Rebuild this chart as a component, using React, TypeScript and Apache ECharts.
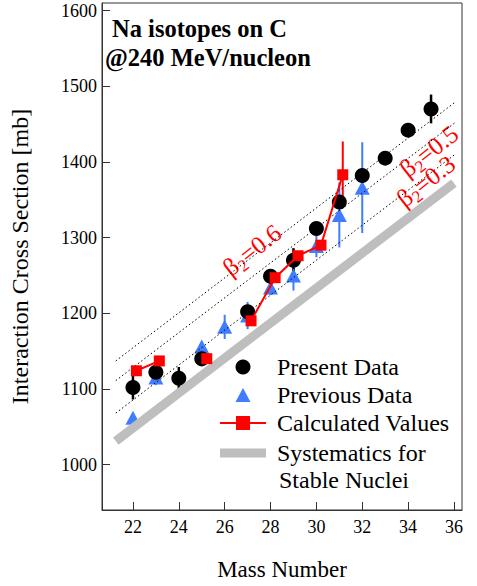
import React, { useEffect, useRef } from "react";
import * as echarts from "echarts";

// ---- data ----
const xTicks = [22, 24, 26, 28, 30, 32, 34, 36];
const yTicks = [1000, 1100, 1200, 1300, 1400, 1500, 1600];

// Present data: [A, sigma, err]
const presentA = [22, 23, 24, 25, 27, 28, 29, 30, 31, 32, 33, 34, 35];
const presentSigma = [1102, 1122, 1114, 1140, 1202, 1249, 1270, 1312, 1347, 1382, 1405, 1442, 1470];
const presentErr = [16, 8, 15, 10, 8, 5, 16, 5, 8, 5, 9, 5, 19];

// Previous data
const previousA = [22, 23, 25, 26, 27, 28, 29, 30, 31, 32];
const previousSigma = [1062, 1115, 1156, 1182, 1197, 1234, 1250, 1289, 1330, 1366];
const previousErr = [0, 10, 4, 16, 18, 10, 20, 15, 43, 60];

// Calculated values (null = break in line)
const calcA = [22.15, 23.15, 24, 25.22, 26, 27.15, 28.2, 29.2, 30.2, 31.15];
const calcSigma: (number | null)[] = [1124, 1137, null, 1140, null, 1190, 1247, 1276, 1290, 1383];
const calcErr = [0, 0, 0, 0, 0, 0, 0, 0, 0, 44];

// Systematics for stable nuclei
const systA = [21.25, 36.0];
const systSigma = [1031, 1372];

// beta2 deformation lines
const betaA = [21.25, 36.05];
const beta06 = [1137, 1479];
const beta05 = [1111, 1452];
const beta03 = [1068, 1410];

const FONT = "Liberation Serif, Times New Roman, serif";

function zip(xs: number[], ys: (number | null)[]) {
  return xs.map((x, i) => [x, ys[i] === null ? "-" : ys[i]]);
}
function errData(xs: number[], ys: (number | null)[], es: number[]) {
  const out: number[][] = [];
  xs.forEach((x, i) => {
    const y = ys[i];
    if (y !== null && es[i] > 0) out.push([x, y - es[i], y + es[i]]);
  });
  return out;
}
function errSeries(data: number[][], color: string, width: number) {
  return {
    type: "custom",
    data,
    encode: { x: 0, y: [1, 2] },
    silent: true,
    renderItem: (_p: any, api: any) => {
      const a = api.coord([api.value(0), api.value(1)]);
      const b = api.coord([api.value(0), api.value(2)]);
      return {
        type: "line",
        shape: { x1: a[0], y1: a[1], x2: b[0], y2: b[1] },
        style: { stroke: color, lineWidth: width },
      };
    },
  };
}

const BLUE = "#3f7cff";
const RED = "#ff0000";
const GRAY = "#bebebe";

export default function App() {
  const ref = useRef<HTMLDivElement>(null);
  useEffect(() => {
    document.body.style.margin = "0";
    const chart = echarts.init(ref.current!, null, { renderer: "svg" });
    const rot = (38 * Math.PI) / 180;
    const betaLabel = (txt: string, x: number, y: number) => ({
      type: "text",
      x,
      y,
      rotation: rot,
      style: {
        text: `{b|β}{s|2}{b|=${txt}}`,
        align: "center",
        verticalAlign: "middle",
        rich: {
          b: { fontFamily: FONT, fontSize: 25, fill: RED, color: RED },
          s: { fontFamily: FONT, fontSize: 17, fill: RED, color: RED, padding: [14, 0, 0, 0] },
        },
      },
    });
    const legText = (t: string, y: number, x = 277) => ({
      type: "text",
      x,
      y,
      style: { text: t, fontFamily: FONT, fontSize: 24, fill: "#000", verticalAlign: "middle", align: "left" },
    });
    chart.setOption({
      animation: false,
      textStyle: { fontFamily: FONT },
      grid: { left: 93, right: 15, top: 3, bottom: 61, show: true, borderColor: "#333", borderWidth: 1 },
      xAxis: {
        type: "value",
        min: 20.65,
        max: 36.35,
        name: "Mass Number",
        nameLocation: "middle",
        nameGap: 48,
        nameTextStyle: { fontFamily: FONT, fontSize: 23, color: "#000" },
        axisLine: { show: true, lineStyle: { color: "#333" } },
        axisTick: { show: true, inside: true, length: 8, lineStyle: { color: "#333" }, customValues: xTicks },
        axisLabel: { fontFamily: FONT, fontSize: 18, color: "#000", margin: 8, customValues: xTicks, formatter: (v: number) => String(v) },
        splitLine: { show: false },
      },
      yAxis: {
        type: "value",
        min: 940,
        max: 1610,
        name: "Interaction Cross Section [mb]",
        nameLocation: "middle",
        nameGap: 70,
        nameRotate: 90,
        nameTextStyle: { fontFamily: FONT, fontSize: 24, color: "#000" },
        axisLine: { show: true, lineStyle: { color: "#333" } },
        axisTick: { show: true, inside: true, length: 8, lineStyle: { color: "#333" }, customValues: yTicks },
        axisLabel: { fontFamily: FONT, fontSize: 18, color: "#000", margin: 5, customValues: yTicks, formatter: (v: number) => String(v) },
        splitLine: { show: false },
      },
      series: [
        {
          type: "line",
          name: "Systematics for Stable Nuclei",
          data: zip(systA, systSigma),
          symbol: "none",
          lineStyle: { color: GRAY, width: 9, cap: "butt" },
          silent: true,
        },
        ...[beta06, beta05, beta03].map((b) => ({
          type: "line",
          data: zip(betaA, b),
          symbol: "none",
          lineStyle: { color: "#000", width: 1, type: [1.5, 2.5] },
          silent: true,
        })),
        {
          type: "line",
          name: "Calculated Values",
          data: zip(calcA, calcSigma),
          connectNulls: false,
          symbol: "rect",
          symbolSize: 11,
          itemStyle: { color: RED, opacity: 1 },
          lineStyle: { color: RED, width: 2 },
        },
        errSeries(errData(calcA, calcSigma, calcErr), RED, 2),
        errSeries(errData(previousA, previousSigma, previousErr), BLUE, 2),
        {
          type: "scatter",
          name: "Previous Data",
          data: zip(previousA, previousSigma),
          symbol: "triangle",
          symbolSize: [15, 14],
          itemStyle: { color: BLUE, opacity: 1 },
        },
        errSeries(errData(presentA, presentSigma, presentErr), "#000", 2.5),
        {
          type: "scatter",
          name: "Present Data",
          data: zip(presentA, presentSigma),
          symbol: "circle",
          symbolSize: 15,
          itemStyle: { color: "#000", opacity: 1 },
        },
      ],
      graphic: [
        { type: "text", x: 112, y: 28, style: { text: "Na isotopes on C", fontFamily: FONT, fontSize: 24.5, fontWeight: "bold", fill: "#000", verticalAlign: "middle" } },
        { type: "text", x: 105, y: 57, style: { text: "@240 MeV/nucleon", fontFamily: FONT, fontSize: 24.5, fontWeight: "bold", fill: "#000", verticalAlign: "middle" } },
        betaLabel("0.6", 252, 250),
        betaLabel("0.5", 429, 151),
        betaLabel("0.3", 426, 181),
        // legend
        { type: "circle", shape: { cx: 243, cy: 367, r: 7.5 }, style: { fill: "#000" } },
        legText("Present Data", 367),
        { type: "polygon", shape: { points: [[243, 388], [250.5, 402], [235.5, 402]] }, style: { fill: BLUE } },
        legText("Previous Data", 395),
        { type: "line", shape: { x1: 220, y1: 423, x2: 266, y2: 423 }, style: { stroke: RED, lineWidth: 2 } },
        { type: "rect", shape: { x: 236, y: 416, width: 14, height: 14 }, style: { fill: RED } },
        legText("Calculated Values", 423),
        { type: "line", shape: { x1: 220, y1: 453, x2: 266, y2: 453 }, style: { stroke: GRAY, lineWidth: 9 } },
        legText("Systematics for", 453),
        legText("Stable Nuclei", 480, 279),
      ],
    });
    return () => chart.dispose();
  }, []);
  return <div ref={ref} style={{ width: 477, height: 586 }} />;
}
